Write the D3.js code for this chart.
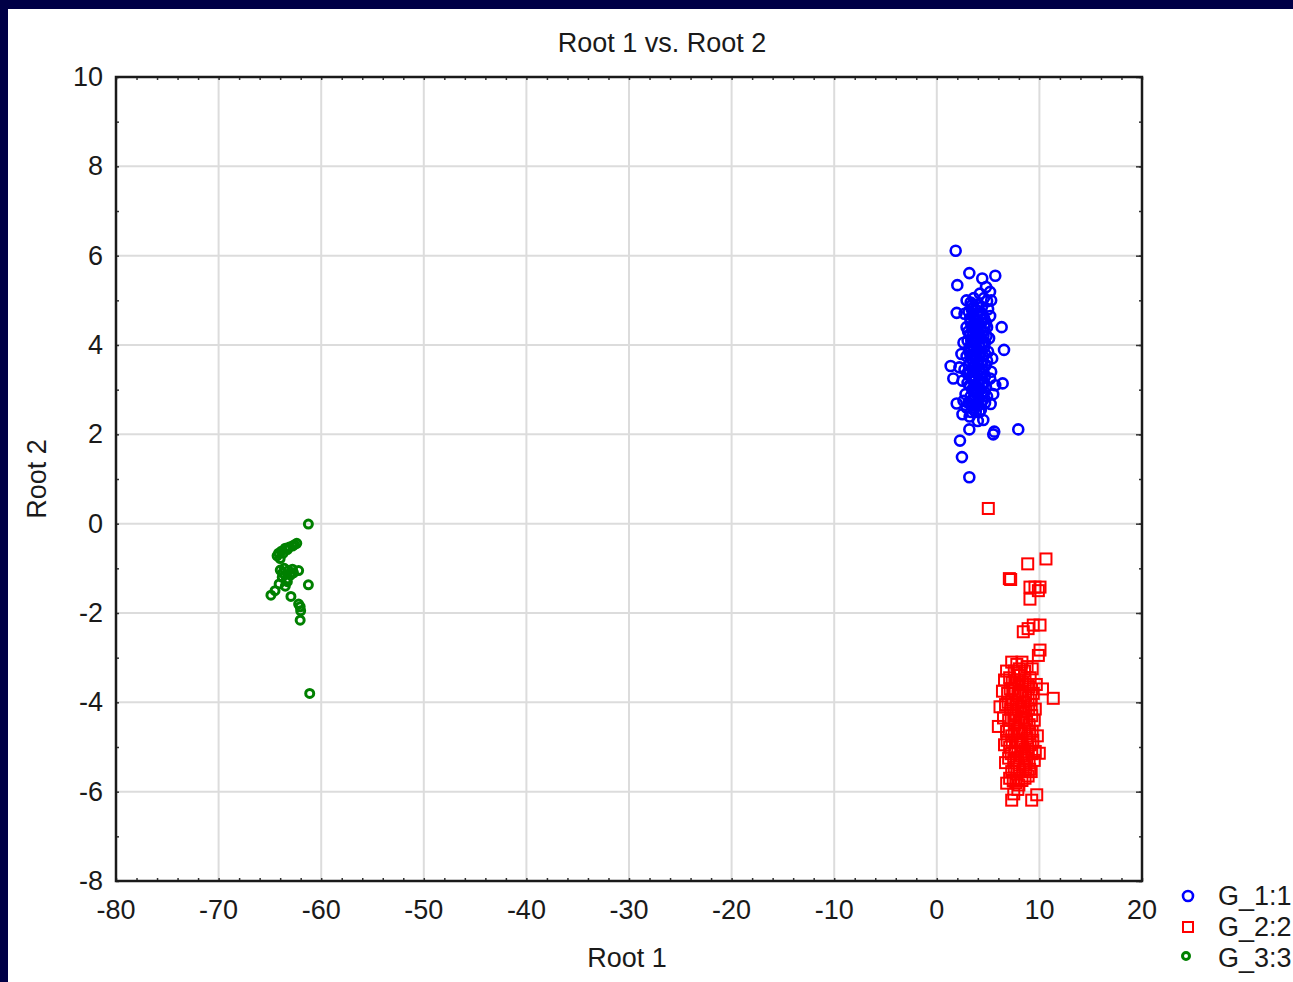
<!DOCTYPE html>
<html>
<head>
<meta charset="utf-8">
<script src="https://cdn.jsdelivr.net/npm/d3@7"></script>
<style>
  html, body { margin: 0; padding: 0; background: #000046; }
  svg { display: block; }
  text { font-family: "Liberation Sans", Arial, sans-serif; fill: #1a1a1a; }
</style>
</head>
<body>
<script>
// group 1 (blue circles)
var g1 = [[1.84,6.11],[3.17,5.61],[4.43,5.49],[5.7,5.55],[2.0,5.34],[5.19,5.19],[4.8,5.3],[4.2,5.15],
  [3.6,5.05],[4.9,4.98],[1.94,4.72],[6.32,4.40],[6.55,3.89],[1.35,3.53],[1.61,3.25],[6.42,3.14],
  [1.94,2.69],[5.25,2.68],[3.17,2.11],[5.6,2.06],[5.5,2.0],[7.94,2.11],[2.26,1.86],[2.45,1.49],
  [3.17,1.04],[4.53,2.32],[2.5,2.45],[3.2,2.4],[4.0,2.3],[3.6,2.55],
  [3.3,4.95],[3.9,4.9],[4.4,4.85],[5.0,4.8],
  [2.7,4.7],[3.1,4.75],[3.5,4.65],[4.0,4.7],[4.6,4.6],[5.2,4.65],[3.8,4.55],
  [2.9,4.4],[3.3,4.5],[3.7,4.35],[4.1,4.45],[4.5,4.3],[4.9,4.4],[3.5,4.2],[4.3,4.15],
  [2.6,4.05],[3.0,4.1],[3.4,4.0],[3.9,4.1],[4.2,3.95],[4.7,4.05],[5.1,4.15],[3.6,3.9],
  [2.4,3.8],[2.9,3.75],[3.3,3.85],[3.8,3.7],[4.1,3.8],[4.5,3.75],[5.0,3.85],[5.4,3.7],[4.3,3.6],
  [2.2,3.5],[2.7,3.45],[3.1,3.55],[3.5,3.4],[3.9,3.5],[4.4,3.45],[4.8,3.55],[5.3,3.4],[3.7,3.3],
  [2.5,3.2],[3.0,3.15],[3.4,3.25],[3.8,3.1],[4.2,3.2],[4.6,3.15],[5.2,3.25],[5.7,3.1],[4.0,3.0],
  [2.8,2.9],[3.3,2.85],[3.6,2.95],[4.1,2.8],[4.5,2.9],[4.9,2.85],[5.5,2.9],[3.9,2.7],
  [2.9,2.6],[3.4,2.65],[4.3,2.55],[4.7,2.7],[3.8,2.5],[2.6,2.75],
  [3.6,4.45],[4.0,4.3],[3.2,3.95],[4.6,3.95],[3.5,3.65],[4.7,3.3],[3.2,3.4],[4.3,3.35],
  [3.6,3.05],[4.4,2.95],[3.1,2.7],[4.8,4.5],[3.4,4.8],[4.6,5.05],[5.3,5.0],[2.9,5.0],
  [3.45,4.9],[3.75,4.8],[4.15,4.75],[4.45,4.7],[3.25,4.6],[3.65,4.6],[4.05,4.55],[4.35,4.5],
  [3.45,4.4],[3.85,4.4],[4.25,4.35],[4.65,4.4],[3.25,4.25],[3.75,4.2],[4.05,4.15],[4.55,4.2],
  [3.35,4.1],[3.7,4.05],[4.1,4.0],[4.45,4.05],[3.15,3.85],[3.55,3.8],[3.95,3.85],[4.3,3.85],
  [4.7,3.8],[3.35,3.7],[3.7,3.55],[4.05,3.65],[4.45,3.6],[3.25,3.6],[3.55,3.5],[4.15,3.45],
  [4.55,3.4],[3.4,3.3],[3.95,3.35],[4.4,3.25],[3.2,3.1],[3.6,3.2],[4.0,3.15],[4.4,3.1],
  [3.45,3.0],[3.85,2.95],[4.25,3.0],[4.65,2.95],[3.3,2.75],[3.65,2.8],[4.05,2.65],[4.45,2.75],
  [3.55,2.65],[4.15,2.5],[3.35,2.5],[4.8,3.05],[4.9,3.65],[4.85,4.2],[3.0,3.35],[3.05,4.3]];

// group 2 (red squares)
var g2 = [[5.02,0.34],[10.64,-0.79],[8.86,-0.90],[7.07,-1.23],[7.2,-1.25],[9.08,-1.42],[9.57,-1.42],
  [10.06,-1.42],[9.9,-1.5],[9.08,-1.69],[8.43,-2.42],[8.9,-2.35],[9.4,-2.27],[10.06,-2.27],
  [10.06,-2.83],[9.9,-2.95],[11.35,-3.91],[6.16,-4.1],[6.0,-4.54],[9.99,-5.14],[6.81,-5.81],
  [7.3,-6.19],[9.25,-6.19],[9.74,-6.07],[7.9,-5.95],[7.5,-6.05],
  [7.3,-3.1],[7.8,-3.15],[8.3,-3.1],[8.8,-3.2],[9.3,-3.25],[6.8,-3.3],
  [6.6,-3.5],[7.1,-3.45],[7.6,-3.55],[8.1,-3.4],[8.6,-3.5],[9.1,-3.45],[9.7,-3.6],
  [6.4,-3.75],[6.9,-3.8],[7.4,-3.7],[7.9,-3.85],[8.4,-3.75],[8.9,-3.9],[9.4,-3.8],[10.3,-3.7],
  [6.7,-4.05],[7.2,-4.15],[7.7,-4.0],[8.2,-4.1],[8.7,-4.2],[9.2,-4.05],[9.6,-4.15],
  [6.5,-4.35],[7.0,-4.4],[7.5,-4.3],[8.0,-4.45],[8.5,-4.35],[9.0,-4.5],[9.5,-4.4],
  [6.8,-4.65],[7.3,-4.75],[7.8,-4.6],[8.3,-4.7],[8.8,-4.8],[9.3,-4.65],[9.8,-4.75],
  [6.6,-4.95],[7.1,-5.0],[7.6,-5.1],[8.1,-4.9],[8.6,-5.05],[9.1,-4.95],[9.6,-5.1],
  [7.0,-5.25],[7.5,-5.3],[8.0,-5.4],[8.5,-5.2],[9.0,-5.35],[9.5,-5.3],[6.7,-5.35],
  [7.3,-5.55],[7.8,-5.6],[8.4,-5.5],[8.9,-5.65],[7.1,-5.7],
  [8.0,-3.6],[8.5,-4.0],[7.6,-4.5],[8.2,-4.9],[8.7,-5.5],[7.9,-5.1],[8.4,-4.2],[7.3,-3.95],
  [9.0,-3.65],[7.7,-5.8],[8.3,-5.75],[9.2,-5.55],
  [7.55,-3.3],[8.05,-3.25],[8.55,-3.3],[7.35,-3.55],[7.85,-3.5],[8.35,-3.55],[8.85,-3.6],
  [7.15,-3.7],[7.65,-3.8],[8.15,-3.75],[8.65,-3.85],[9.15,-3.95],[6.95,-4.0],[7.45,-4.05],
  [7.95,-4.15],[8.45,-4.1],[8.95,-4.15],[7.25,-4.35],[7.75,-4.3],[8.25,-4.35],[8.75,-4.4],
  [9.25,-4.3],[7.05,-4.6],[7.55,-4.7],[8.05,-4.65],[8.55,-4.6],[9.05,-4.7],[6.85,-4.85],
  [7.35,-4.9],[7.85,-4.85],[8.35,-5.0],[8.85,-5.0],[9.35,-4.85],[7.25,-5.15],[7.75,-5.25],
  [8.25,-5.2],[8.75,-5.25],[9.25,-5.15],[7.55,-5.45],[8.05,-5.55],[8.55,-5.4],[9.05,-5.5],
  [7.45,-5.75],[8.0,-5.85],[8.6,-5.7]];

// group 3 (green)
var g3 = [[-61.25,-0.01],[-62.38,-0.44],[-62.8,-0.5],[-63.1,-0.52],[-63.5,-0.55],[-63.9,-0.62],
  [-64.15,-0.66],[-64.3,-0.72],[-63.99,-1.04],[-63.6,-1.0],[-63.2,-1.05],[-62.8,-1.02],[-62.2,-1.05],
  [-63.8,-1.2],[-63.4,-1.25],[-63.0,-1.15],[-64.1,-1.35],[-63.5,-1.4],[-61.25,-1.37],[-64.9,-1.6],
  [-64.5,-1.5],[-62.95,-1.63],[-62.2,-1.8],[-62.05,-1.86],[-62.0,-1.95],[-62.05,-2.16],[-61.12,-3.8],
  [-62.6,-0.47],[-63.3,-0.58],[-63.7,-0.66],[-64.0,-0.78],[-63.75,-1.1],[-63.3,-1.3],[-62.7,-1.1]];

var xTicks = [-80,-70,-60,-50,-40,-30,-20,-10,0,10,20];
var yTicks = [-8,-6,-4,-2,0,2,4,6,8,10];
var legendLabels = ["G_1:1", "G_2:2", "G_3:3"];

var width = 1293, height = 982;
var pLeft = 116, pRight = 1142, pTop = 77, pBottom = 881;
var fs = "27px";

var svg = d3.select("body").append("svg")
    .attr("width", width)
    .attr("height", height);

// white panel inside the navy frame
svg.append("rect")
    .attr("x", 8).attr("y", 9)
    .attr("width", width - 8).attr("height", height - 9)
    .attr("fill", "#fff");

var x = d3.scaleLinear().domain([-80, 20]).range([pLeft, pRight]);
var y = d3.scaleLinear().domain([-8, 10]).range([pBottom, pTop]);

// grid
svg.append("g").selectAll("line").data(xTicks.slice(1, -1)).enter().append("line")
    .attr("x1", function(d){ return x(d); }).attr("x2", function(d){ return x(d); })
    .attr("y1", pTop).attr("y2", pBottom)
    .attr("stroke", "#dcdcdc").attr("stroke-width", 2);
svg.append("g").selectAll("line").data(yTicks.slice(1, -1)).enter().append("line")
    .attr("y1", function(d){ return y(d); }).attr("y2", function(d){ return y(d); })
    .attr("x1", pLeft).attr("x2", pRight)
    .attr("stroke", "#dcdcdc").attr("stroke-width", 2);

// axes, ticks inward
var xMinor = d3.range(-80, 20.01, 2);
var yMinor = d3.range(-8, 10.01, 1);

function noText(g){ g.selectAll("text").remove(); g.select(".domain").remove(); }

svg.append("g").attr("transform", "translate(0," + pBottom + ")")
    .call(d3.axisTop(x).tickValues(xMinor).tickSize(3)).call(noText);
svg.append("g").attr("transform", "translate(0," + pTop + ")")
    .call(d3.axisBottom(x).tickValues(xMinor).tickSize(3)).call(noText);
svg.append("g").attr("transform", "translate(" + pLeft + ",0)")
    .call(d3.axisRight(y).tickValues(yMinor).tickSize(3)).call(noText);
svg.append("g").attr("transform", "translate(" + pRight + ",0)")
    .call(d3.axisLeft(y).tickValues(yMinor).tickSize(3)).call(noText);
svg.append("g").attr("transform", "translate(" + pRight + ",0)")
    .call(d3.axisLeft(y).tickValues(yTicks).tickSize(6)).call(noText);
svg.selectAll(".tick line").attr("stroke", "#333").attr("stroke-width", 1.5);

// tick labels
svg.append("g").selectAll("text").data(xTicks).enter().append("text")
    .attr("x", function(d){ return x(d); })
    .attr("y", pBottom + 38)
    .attr("text-anchor", "middle")
    .style("font-size", fs)
    .text(function(d){ return d; });
svg.append("g").selectAll("text").data(yTicks).enter().append("text")
    .attr("x", pLeft - 13)
    .attr("y", function(d){ return y(d) + 9; })
    .attr("text-anchor", "end")
    .style("font-size", fs)
    .text(function(d){ return d; });

// frame
svg.append("rect")
    .attr("x", pLeft).attr("y", pTop)
    .attr("width", pRight - pLeft).attr("height", pBottom - pTop)
    .attr("fill", "none").attr("stroke", "#1a1a1a").attr("stroke-width", 2.5);

// titles
svg.append("text").attr("x", 662).attr("y", 52)
    .attr("text-anchor", "middle").style("font-size", fs)
    .text("Root 1 vs. Root 2");
svg.append("text").attr("x", 627).attr("y", 967)
    .attr("text-anchor", "middle").style("font-size", fs)
    .text("Root 1");
svg.append("text")
    .attr("transform", "translate(46," + ((pTop + pBottom) / 2) + ") rotate(-90)")
    .attr("text-anchor", "middle").style("font-size", fs)
    .text("Root 2");

// points
var pts = svg.append("g");
pts.selectAll("circle.g1").data(g1).enter().append("circle")
    .attr("class", "g1")
    .attr("cx", function(d){ return x(d[0]); })
    .attr("cy", function(d){ return y(d[1]); })
    .attr("r", 5)
    .attr("fill", "none").attr("stroke", "#0000ff").attr("stroke-width", 2.6);
pts.selectAll("rect.g2").data(g2).enter().append("rect")
    .attr("class", "g2")
    .attr("x", function(d){ return x(d[0]) - 5.5; })
    .attr("y", function(d){ return y(d[1]) - 5.5; })
    .attr("width", 11).attr("height", 11)
    .attr("fill", "none").attr("stroke", "#ff0000").attr("stroke-width", 2);
pts.selectAll("circle.g3").data(g3).enter().append("circle")
    .attr("class", "g3")
    .attr("cx", function(d){ return x(d[0]); })
    .attr("cy", function(d){ return y(d[1]); })
    .attr("r", 4)
    .attr("fill", "none").attr("stroke", "#008000").attr("stroke-width", 3);

// legend
var leg = svg.append("g");
leg.append("circle").attr("cx", 1188).attr("cy", 896).attr("r", 5)
    .attr("fill", "none").attr("stroke", "#0000ff").attr("stroke-width", 2.6);
leg.append("rect").attr("x", 1183).attr("y", 922).attr("width", 10).attr("height", 10)
    .attr("fill", "none").attr("stroke", "#ff0000").attr("stroke-width", 2);
leg.append("circle").attr("cx", 1186).attr("cy", 956).attr("r", 3.5)
    .attr("fill", "none").attr("stroke", "#008000").attr("stroke-width", 3);
leg.selectAll("text").data(legendLabels).enter().append("text")
    .attr("x", 1218)
    .attr("y", function(d, i){ return 905 + i * 31; })
    .style("font-size", fs)
    .text(function(d){ return d; });
</script>
</body>
</html>
